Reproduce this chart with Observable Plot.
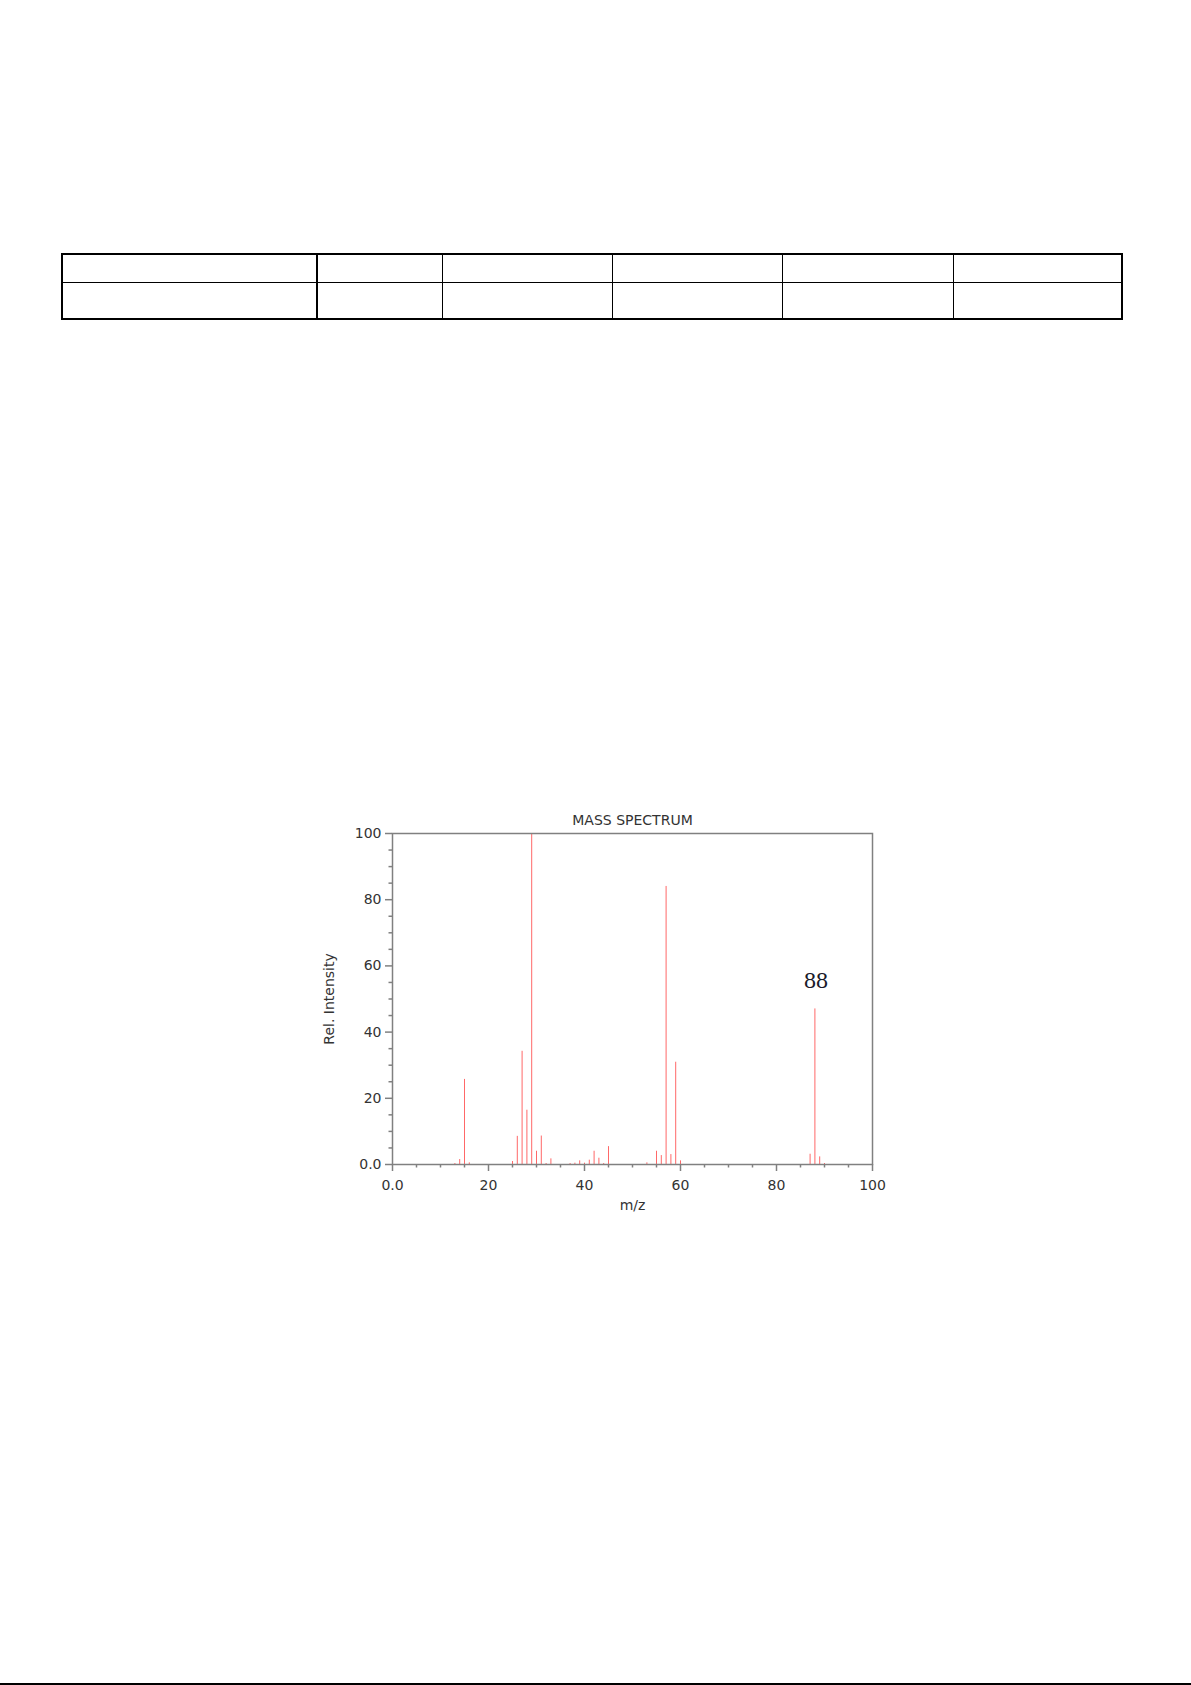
<!DOCTYPE html>
<html>
<head>
<meta charset="utf-8">
<script src="https://cdn.jsdelivr.net/npm/d3@7"></script>
<script src="https://cdn.jsdelivr.net/npm/@observablehq/plot@0.6"></script>
<style>
  html, body { margin: 0; padding: 0; background: #fff; }
  #page { position: relative; width: 1191px; height: 1685px; overflow: hidden; background: #fff; }
  #tbl { position: absolute; left: 61px; top: 253px; width: 1060px; border-collapse: collapse; table-layout: fixed; }
  #tbl td { border: 1px solid #000; padding: 0; }
  #chart { position: absolute; left: 300px; top: 790px; }
  #bottomline { position: absolute; left: 0; top: 1683px; width: 1191px; height: 2px; background: #000; }
</style>
</head>
<body>
<div id="page">
  <table id="tbl"></table>
  <div id="chart"></div>
  <div id="bottomline"></div>
</div>
<script>
// ---- data ----
const mz = [13, 14, 15, 16, 25, 26, 27, 28, 29, 30, 31, 32, 33, 37, 38, 39, 40, 41, 42, 43, 44, 45, 53, 55, 56, 57, 58, 59, 60, 87, 88, 89, 90];
const intensity = [0.3, 1.5, 25.7, 0.5, 0.9, 8.5, 34.2, 16.4, 100, 4.0, 8.6, 0.3, 1.7, 0.3, 0.4, 1.1, 0.4, 1.3, 4.0, 1.9, 0.3, 5.4, 0.5, 4.0, 2.7, 84.0, 3.0, 30.9, 1.1, 3.1, 47.0, 2.3, 0.3];
const xMajorTicks = [0, 20, 40, 60, 80, 100];
const yMajorTicks = [0, 20, 40, 60, 80, 100];
const xMinorTicks = [5, 10, 15, 25, 30, 35, 45, 50, 55, 65, 70, 75, 85, 90, 95];
const yMinorTicks = [5, 10, 15, 25, 30, 35, 45, 50, 55, 65, 70, 75, 85, 90, 95];
const peakLabels = [{mz: 88, intensity: 47.0, text: "88"}];
const chartTitle = "MASS SPECTRUM";
const xLabel = "m/z";
const yLabel = "Rel. Intensity";
const tableRows = 2;
const tableColWidths = [255, 125, 170, 170, 171, 169];

// ---- empty table ----
const tbl = document.getElementById("tbl");
const cg = document.createElement("colgroup");
tableColWidths.forEach(w => { const c = document.createElement("col"); c.style.width = w + "px"; cg.appendChild(c); });
tbl.appendChild(cg);
const rowHeights = [28, 37];
for (let r = 0; r < tableRows; r++) {
  const tr = document.createElement("tr");
  tr.style.height = rowHeights[r] + "px";
  tableColWidths.forEach((w, i) => {
    const td = document.createElement("td");
    if (r === 0) td.style.borderTop = "2px solid #000";
    if (r === tableRows - 1) td.style.borderBottom = "2px solid #000";
    if (i === 0) td.style.borderLeft = "2px solid #000";
    if (i === tableColWidths.length - 1) td.style.borderRight = "2px solid #000";
    if (i === 0) td.style.borderRight = "2px solid #000";
    tr.appendChild(td);
  });
  tbl.appendChild(tr);
}

// ---- spectrum ----
const data = mz.map((m, i) => ({mz: m, intensity: intensity[i]}));
const fmt = d => d === 0 ? "0.0" : String(d);
const axisColor = "#808080";

const chart = Plot.plot({
  width: 600,
  height: 440,
  marginLeft: 92,
  marginRight: 28,
  marginTop: 43,
  marginBottom: 66,
  style: {fontFamily: "DejaVu Sans", fontSize: "14px", color: "#333", background: "#fff"},
  x: {domain: [0, 100]},
  y: {domain: [0, 100]},
  marks: [
    Plot.ruleX(data, {x: "mz", y1: 0, y2: "intensity", stroke: "#ff2020", strokeOpacity: 0.68, strokeWidth: 1}),
    Plot.frame({stroke: axisColor, strokeWidth: 1.5}),
    Plot.axisX({ticks: xMajorTicks, tickSize: 7, tickPadding: 9, tickFormat: fmt, stroke: axisColor, strokeWidth: 1.5, fill: "#333", fontSize: 14, label: null}),
    Plot.axisX({ticks: xMinorTicks, tickSize: 3.5, text: null, stroke: axisColor, strokeWidth: 1.5, label: null}),
    Plot.axisY({ticks: yMajorTicks, tickSize: 7, tickPadding: 4, tickFormat: fmt, stroke: axisColor, strokeWidth: 1.5, fill: "#333", fontSize: 14, label: null}),
    Plot.axisY({ticks: yMinorTicks, tickSize: 3.5, text: null, stroke: axisColor, strokeWidth: 1.5, label: null}),
    Plot.text([xLabel], {frameAnchor: "bottom", dy: 41, text: d => d, fontSize: 14, fill: "#333", lineAnchor: "middle"}),
    Plot.text([yLabel], {frameAnchor: "left", dx: -63, rotate: -90, textAnchor: "middle", text: d => d, fontSize: 14, fill: "#333", lineAnchor: "middle"}),
    Plot.text([chartTitle], {frameAnchor: "top", dy: -13, text: d => d, fontSize: 14, fill: "#333", lineAnchor: "middle"}),
    Plot.text(peakLabels, {x: "mz", y: "intensity", text: "text", dy: -29, dx: 1, lineAnchor: "middle", fontSize: 24, fontFamily: "Liberation Serif", fill: "#1a1a2a"})
  ]
});
document.getElementById("chart").appendChild(chart);
</script>
</body>
</html>
